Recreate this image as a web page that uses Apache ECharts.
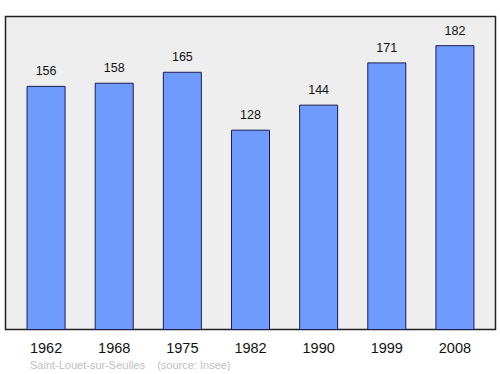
<!DOCTYPE html>
<html><head><meta charset="utf-8">
<script src="https://cdn.jsdelivr.net/npm/echarts@6/dist/echarts.min.js"></script>
<style>html,body{margin:0;padding:0;background:#fff}#c{width:500px;height:374px}</style>
</head><body><div id="c"></div>
<script>
const years = ['1962','1968','1975','1982','1990','1999','2008'];
const population = [156,158,165,128,144,171,182];
const sourceText = 'Saint-Louet-sur-Seulles    (source: Insee)';

const chart = echarts.init(document.getElementById('c'), null, {renderer:'svg'});
chart.setOption({
  animation:false,
  graphic:[
    {type:'rect', z:-10, shape:{x:5.5,y:16.5,width:490,height:313}, style:{fill:'#eeeeee', stroke:'#222', lineWidth:1.5}},
    {type:'text', left:30, top:359, style:{text:sourceText, fill:'#c0c0c0', font:'11px "Liberation Sans", Arial, sans-serif'}}
  ],
  grid:{left:12, right:11, top:17, bottom:44},
  xAxis:{type:'category', data:years,
    axisLine:{show:false}, axisTick:{show:false},
    axisLabel:{color:'#111', fontSize:14.5, margin:10, fontFamily:'"Liberation Sans", Arial, sans-serif'}},
  yAxis:{type:'value', min:0, max:200, show:false, splitLine:{show:false}},
  series:[{type:'bar', data:population, barWidth:39,
    itemStyle:{color:'#6f9bff', borderColor:'#1c1c50', borderWidth:1},
    label:{show:true, position:'top', distance:8, color:'#111', fontSize:12.5, fontFamily:'"Liberation Sans", Arial, sans-serif'}
  }]
});
</script></body></html>
